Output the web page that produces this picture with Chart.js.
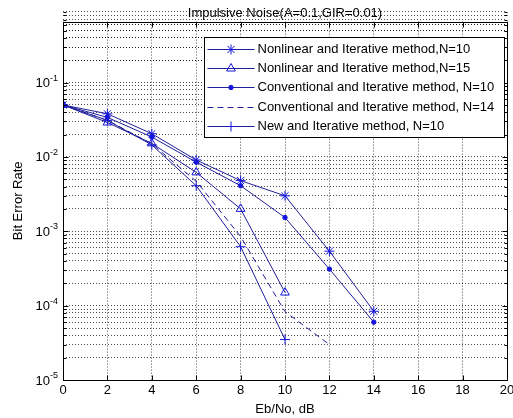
<!DOCTYPE html>
<html>
<head>
<meta charset="utf-8">
<script src="https://cdn.jsdelivr.net/npm/chart.js@4.4.0/dist/chart.umd.min.js"></script>
<style>
  html, body { margin: 0; padding: 0; background: #fff; }
</style>
</head>
<body>
<canvas id="berChart" width="513" height="418"></canvas>
<script>
// ---- data ----
const ebNo = [0, 2, 4, 6, 8, 10, 12, 14];

const nonlinearN10 = [0.05, 0.038, 0.0205, 0.0091, 0.0048, 0.003, 0.00054, 0.000084];
const nonlinearN15 = [0.05, 0.029, 0.0152, 0.0062, 0.002, 0.00015];
const conventionalN10 = [0.05, 0.034, 0.0185, 0.0085, 0.0041, 0.00153, 0.00031, 0.00006];
const conventionalN14 = [0.05, 0.031, 0.015, 0.0047, 0.00085, 0.000083, 0.00003];
const newN10 = [0.05, 0.031, 0.0145, 0.0041, 0.00062, 0.000035];

const seriesLabels = [
  "Nonlinear and Iterative method,N=10",
  "Nonlinear and Iterative method,N=15",
  "Conventional and Iterative method, N=10",
  "Conventional and Iterative method, N=14",
  "New and Iterative method, N=10",
];

const xTicks = [0, 2, 4, 6, 8, 10, 12, 14, 16, 18, 20];
const yTickExps = [-5, -4, -3, -2, -1];

const FONT = "'Liberation Sans', Arial, sans-serif";
const LINE_BLUE = "#20209a";
const MARK_BLUE = "#1414dc";

// grid values 1..9 x 10^n, like matlab minor grid
const yGridValues = [];
yTickExps.forEach((e) => {
  for (let m = 1; m <= 9; m++) yGridValues.push(m * Math.pow(10, e));
});
[2, 3, 4, 5, 6].forEach((m) => yGridValues.push(m * 0.1));

function toPoints(values) {
  return values.map((y, i) => ({ x: ebNo[i], y: y }));
}

function isDecade(v) {
  const e = Math.log10(v);
  return Math.abs(e - Math.round(e)) < 1e-9;
}

const baseSet = {
  borderColor: LINE_BLUE,
  borderWidth: 1,
  pointBorderColor: MARK_BLUE,
  pointBackgroundColor: MARK_BLUE,
  pointBorderWidth: 1,
  tension: 0,
  fill: false,
};

const datasets = [
  { ...baseSet, label: seriesLabels[0], data: toPoints(nonlinearN10), pointStyle: "star", pointRadius: 5 },
  { ...baseSet, label: seriesLabels[1], data: toPoints(nonlinearN15), pointStyle: "triangle", pointRadius: 5, pointBackgroundColor: "rgba(0,0,0,0)" },
  { ...baseSet, label: seriesLabels[2], data: toPoints(conventionalN10), pointStyle: "circle", pointRadius: 2.2 },
  { ...baseSet, label: seriesLabels[3], data: toPoints(conventionalN14), pointRadius: 0, borderDash: [6, 4] },
  { ...baseSet, label: seriesLabels[4], data: toPoints(newN10), pointStyle: "cross", pointRadius: 5 },
];

// frame, inner tick marks and y labels with superscripts
const framePlugin = {
  id: "frame",
  afterDatasetsDraw(chart) {
    const { ctx, chartArea: a, scales } = chart;
    const left = Math.round(a.left) + 0.5;
    const right = Math.round(a.right) + 0.5;
    const top = Math.round(a.top) + 0.5;
    const bottom = Math.round(a.bottom) + 0.5;
    ctx.save();
    ctx.strokeStyle = "#000";
    ctx.lineWidth = 1;
    ctx.setLineDash([]);
    ctx.beginPath();
    xTicks.forEach((v) => {
      const px = Math.round(scales.x.getPixelForValue(v)) + 0.5;
      ctx.moveTo(px, bottom);
      ctx.lineTo(px, bottom - 5);
      ctx.moveTo(px, top);
      ctx.lineTo(px, top + 5);
    });
    yGridValues.forEach((v) => {
      const py = Math.round(scales.y.getPixelForValue(v)) + 0.5;
      const len = isDecade(v) ? 5 : 3;
      ctx.moveTo(left, py);
      ctx.lineTo(left + len, py);
      ctx.moveTo(right, py);
      ctx.lineTo(right - len, py);
    });
    ctx.rect(left, top, right - left, bottom - top);
    ctx.stroke();

    // y tick labels 10^n
    ctx.fillStyle = "#000";
    yTickExps.forEach((e) => {
      const py = scales.y.getPixelForValue(Math.pow(10, e));
      const sup = String(e);
      ctx.font = "9px " + FONT;
      const supW = ctx.measureText(sup).width;
      const xr = a.left - 5;
      ctx.textAlign = "right";
      ctx.textBaseline = "alphabetic";
      ctx.fillText(sup, xr, py - 2);
      ctx.font = "13px " + FONT;
      ctx.textBaseline = "middle";
      ctx.fillText("10", xr - supW, py + 1);
    });
    ctx.restore();
  },
};

// legend box inside the axes, top right
const legendPlugin = {
  id: "boxLegend",
  afterDraw(chart) {
    const { ctx, chartArea: a } = chart;
    const boxR = Math.round(a.right) - 2.5;
    const boxL = boxR - 300;
    const boxT = Math.round(a.top) + 15.5;
    const boxH = 100;
    const rowH = 19.4;
    ctx.save();
    ctx.fillStyle = "#fff";
    ctx.fillRect(boxL, boxT, boxR - boxL, boxH);
    ctx.strokeStyle = "#000";
    ctx.lineWidth = 1;
    ctx.setLineDash([]);
    ctx.strokeRect(boxL, boxT, boxR - boxL, boxH);

    chart.data.datasets.forEach((ds, i) => {
      const y = Math.round(boxT + 11 + i * rowH) + 0.5;
      const x0 = boxL + 3;
      const x1 = boxL + 50;
      ctx.strokeStyle = ds.borderColor;
      ctx.lineWidth = 1;
      ctx.setLineDash(ds.borderDash || []);
      ctx.beginPath();
      ctx.moveTo(x0, y);
      ctx.lineTo(x1, y);
      ctx.stroke();
      ctx.setLineDash([]);
      if (ds.pointRadius > 0) {
        ctx.strokeStyle = ds.pointBorderColor;
        ctx.fillStyle = ds.pointBackgroundColor;
        ctx.lineWidth = 1;
        Chart.helpers.drawPoint(ctx, {
          pointStyle: ds.pointStyle,
          radius: ds.pointRadius,
          rotation: 0,
          borderWidth: 1,
        }, (x0 + x1) / 2, y);
      }
      ctx.fillStyle = "#000";
      ctx.font = "13px " + FONT;
      ctx.textAlign = "left";
      ctx.textBaseline = "middle";
      ctx.fillText(ds.label, boxL + 53, y);
    });
    ctx.restore();
  },
};

const gridStyle = {
  color: "rgba(0,0,0,0.7)",
  lineWidth: 1,
  drawTicks: false,
};

new Chart(document.getElementById("berChart"), {
  type: "line",
  data: { datasets: datasets },
  plugins: [framePlugin, legendPlugin],
  options: {
    responsive: false,
    devicePixelRatio: 1,
    animation: false,
    layout: { padding: { left: 0, right: 5, top: 0, bottom: 0 } },
    plugins: {
      legend: { display: false },
      tooltip: { enabled: false },
      title: {
        display: true,
        fullSize: false,
        text: "Impulsive Noise(A=0.1,GIR=0.01)",
        color: "#000",
        font: { family: FONT, size: 13, weight: "normal" },
        padding: { top: 6, bottom: 0 },
      },
    },
    scales: {
      x: {
        type: "linear",
        min: 0,
        max: 20,
        ticks: {
          stepSize: 2,
          color: "#000",
          padding: 3,
          font: { family: FONT, size: 13 },
          maxRotation: 0,
        },
        grid: { ...gridStyle },
        border: { display: false, dash: [1, 2] },
        title: {
          display: true,
          text: "Eb/No, dB",
          color: "#000",
          font: { family: FONT, size: 13 },
          padding: { top: 0, bottom: 1 },
        },
        afterFit(scale) {
          scale.height = 38;
          scale.paddingLeft = 0;
          scale.paddingRight = 0;
        },
      },
      y: {
        type: "logarithmic",
        min: 1e-5,
        max: 0.66,
        afterBuildTicks(scale) {
          scale.ticks = yGridValues.map((v) => ({ value: v }));
        },
        ticks: { display: false, autoSkip: false },
        grid: { ...gridStyle },
        border: { display: false, dash: [1, 2] },
        title: {
          display: true,
          text: "Bit Error Rate",
          color: "#000",
          font: { family: FONT, size: 13 },
          padding: { top: 11, bottom: 0 },
        },
        afterFit(scale) {
          scale.width = 63;
          scale.paddingTop = 0;
          scale.paddingBottom = 0;
        },
      },
    },
  },
});
</script>
</body>
</html>
